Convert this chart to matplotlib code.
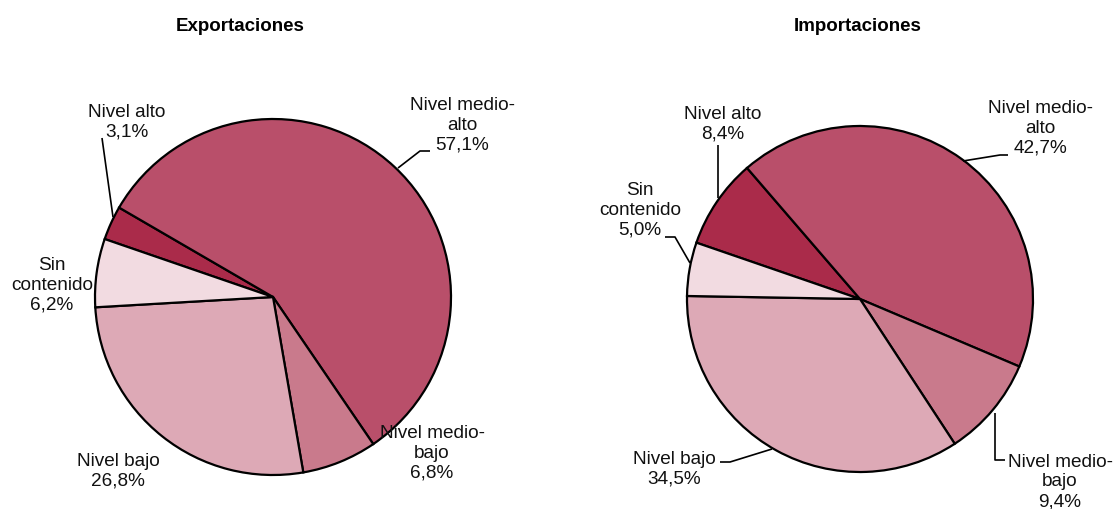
import matplotlib.pyplot as plt

# slice order, clockwise from the top-left
categories = ['Nivel alto', 'Nivel medio-alto', 'Nivel medio-bajo', 'Nivel bajo', 'Sin contenido']
label_names = ['Nivel alto', 'Nivel medio-\nalto', 'Nivel medio-\nbajo', 'Nivel bajo', 'Sin\ncontenido']
exportaciones = [3.1, 57.1, 6.8, 26.8, 6.2]
importaciones = [8.4, 42.7, 9.4, 34.5, 5.0]
colors = ['#AA2B4A', '#B94F6A', '#C97A8C', '#DDA9B6', '#F2DBE1']

W, H = 1117, 509

# layout in pixels (y measured from the top)
charts = [
    {
        'title': 'Exportaciones', 'values': exportaciones,
        'center': (273, 297), 'radius': 178, 'title_x': 240,
        'label_pos': [(127, 122), (462, 125), (432, 453), (118, 471), (52, 285)],
        'leaders': [[(102, 138), (113, 217)],
                    [(430, 151), (420, 151), (398, 168)],
                    None, None, None],
    },
    {
        'title': 'Importaciones', 'values': importaciones,
        'center': (860, 299), 'radius': 173, 'title_x': 858,
        'label_pos': [(723, 124), (1040, 128), (1060, 482), (674, 469), (640, 210)],
        'leaders': [[(718, 145), (718, 198)],
                    [(1008, 155), (1000, 155), (963, 161)],
                    [(1005, 460), (995, 460), (995, 413)],
                    [(720, 462), (730, 462), (772, 449)],
                    [(665, 237), (675, 237), (690, 263)]],
    },
]

plt.rcParams['font.family'] = ['Liberation Sans', 'DejaVu Sans']

fig = plt.figure(figsize=(W / 100, H / 100), dpi=100)
ax = fig.add_axes([0, 0, 1, 1])

for ch in charts:
    cx, cy = ch['center']
    ax.pie(ch['values'], colors=colors, startangle=161, counterclock=False,
           center=(cx, H - cy), radius=ch['radius'],
           wedgeprops=dict(edgecolor='black', linewidth=1.6))
    ax.text(ch['title_x'], H - 26, ch['title'], ha='center', va='center',
            fontsize=13.5, fontweight='bold', color='black')
    for name, val, (lx, ly), path in zip(label_names, ch['values'],
                                         ch['label_pos'], ch['leaders']):
        txt = name + '\n' + f'{val:.1f}'.replace('.', ',') + '%'
        ax.text(lx, H - ly, txt, ha='center', va='center', fontsize=13.7,
                linespacing=1.2, color='#111111')
        if path:
            ax.plot([p[0] for p in path], [H - p[1] for p in path],
                    color='black', lw=1.2, solid_capstyle='butt')

ax.set_xlim(0, W)
ax.set_ylim(0, H)
ax.set_aspect('equal')
ax.axis('off')

fig.savefig('out.png', dpi=100)
